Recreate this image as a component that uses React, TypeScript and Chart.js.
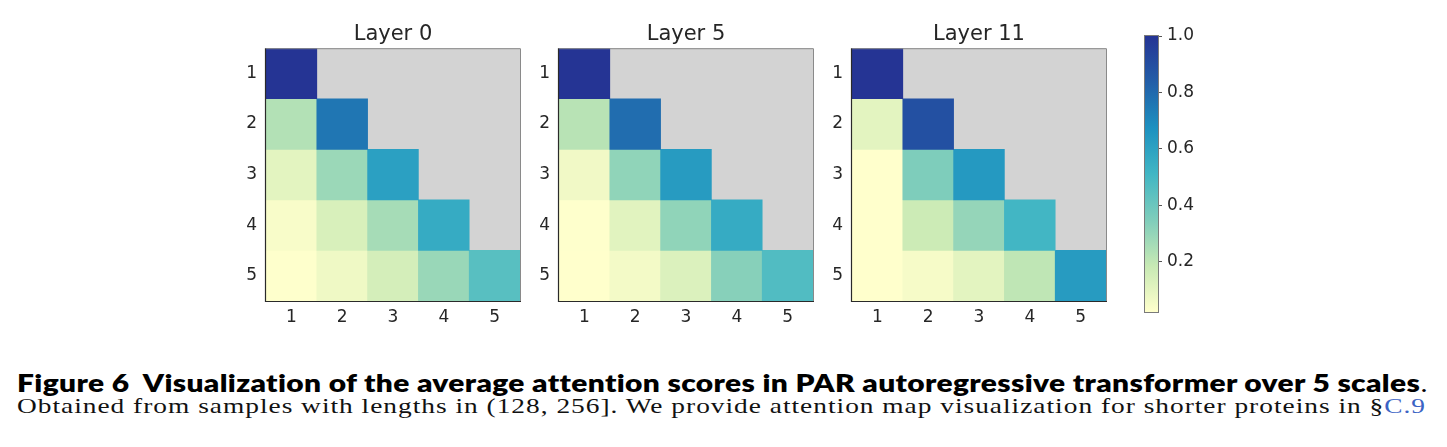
import React, { useEffect, useLayoutEffect, useRef } from "react";
import { Chart, registerables } from "chart.js";

Chart.register(...registerables);

// Scale indices shown on both axes of every attention map
const SCALES = ["1", "2", "3", "4", "5"];

// Average attention scores (lower triangle): row i = query scale i, column j = key scale j
const LAYER_0 = [
  [1.0],
  [0.23, 0.76],
  [0.105, 0.285, 0.61],
  [0.043, 0.137, 0.26, 0.56],
  [0.025, 0.07, 0.148, 0.29, 0.45],
];
const LAYER_5 = [
  [1.0],
  [0.22, 0.79],
  [0.064, 0.31, 0.63],
  [0.025, 0.11, 0.31, 0.56],
  [0.023, 0.058, 0.128, 0.33, 0.47],
];
const LAYER_11 = [
  [1.0],
  [0.105, 0.89],
  [0.023, 0.35, 0.64],
  [0.023, 0.17, 0.3, 0.51],
  [0.023, 0.05, 0.105, 0.205, 0.63],
];

const LAYER_TITLES = ["Layer 0", "Layer 5", "Layer 11"];
const LAYERS = [LAYER_0, LAYER_5, LAYER_11];

// Colour scale range and colorbar tick values
const VMIN = 0.023;
const VMAX = 1.0;
const COLORBAR_TICKS = [0.2, 0.4, 0.6, 0.8, 1.0];

// YlGnBu palette stops, evenly spaced from VMIN to VMAX
const PALETTE = ["#ffffcc", "#c7e9b4", "#7fcdbb", "#41b6c4", "#1d91c0", "#225ea8", "#253494"];

const FONT = "DejaVu Sans";
const TEXT = "#262626";
const TICK_SIZE = 17;

function hexToRgb(h: string): number[] {
  const n = parseInt(h.slice(1), 16);
  return [(n >> 16) & 255, (n >> 8) & 255, n & 255];
}

function colorAt(v: number): string {
  let t = (v - VMIN) / (VMAX - VMIN);
  t = Math.max(0, Math.min(1, t));
  const seg = t * (PALETTE.length - 1);
  const i = Math.min(PALETTE.length - 2, Math.floor(seg));
  const f = seg - i;
  const a = hexToRgb(PALETTE[i]);
  const b = hexToRgb(PALETTE[i + 1]);
  const c = a.map((x, k) => Math.round(x + (b[k] - x) * f));
  return `rgb(${c[0]},${c[1]},${c[2]})`;
}

// Masked (upper-triangle) background and axes frame
const heatFrame = {
  id: "heatFrame",
  beforeDatasetsDraw(chart: any) {
    const { ctx, chartArea: a } = chart;
    ctx.save();
    ctx.fillStyle = "#d3d3d3";
    ctx.fillRect(a.left, a.top, a.right - a.left, a.bottom - a.top);
    ctx.restore();
  },
  afterDatasetsDraw(chart: any) {
    const { ctx, chartArea: a } = chart;
    ctx.save();
    ctx.lineWidth = 1;
    ctx.strokeStyle = "#8a8a8a";
    ctx.beginPath();
    ctx.moveTo(a.left, a.top + 0.5);
    ctx.lineTo(a.right + 0.5, a.top + 0.5);
    ctx.lineTo(a.right + 0.5, a.bottom);
    ctx.stroke();
    ctx.strokeStyle = "#2a2a2a";
    ctx.lineWidth = 1.2;
    ctx.beginPath();
    ctx.moveTo(a.left - 0.5, a.top);
    ctx.lineTo(a.left - 0.5, a.bottom + 0.5);
    ctx.lineTo(a.right + 1, a.bottom + 0.5);
    ctx.stroke();
    ctx.restore();
  },
};

const barFrame = {
  id: "barFrame",
  afterDatasetsDraw(chart: any) {
    const { ctx, chartArea: a } = chart;
    ctx.save();
    ctx.lineWidth = 1;
    ctx.strokeStyle = "#7a7a7a";
    ctx.strokeRect(a.left - 0.5, a.top - 0.5, a.right - a.left + 1, a.bottom - a.top + 1);
    ctx.restore();
  },
};

function Heatmap({ title, rows, left }: { title: string; rows: number[][]; left: number }) {
  const ref = useRef<HTMLCanvasElement>(null);
  useEffect(() => {
    if (!ref.current) return;
    const datasets = rows.map((vals, r) => ({
      label: SCALES[r],
      data: SCALES.map((_, c) => (c < vals.length ? [r + 0.5, r + 1.5] : null)),
      backgroundColor: SCALES.map((_, c) => (c < vals.length ? colorAt(vals[c]) : "rgba(0,0,0,0)")),
      borderWidth: 0,
      grouped: false,
      barPercentage: 1,
      categoryPercentage: 1,
    }));
    const chart = new Chart(ref.current, {
      type: "bar",
      data: { labels: SCALES, datasets: datasets as any },
      plugins: [heatFrame],
      options: {
        responsive: false,
        animation: false,
        layout: { padding: { left: 0, right: 28, top: 22, bottom: 0 } },
        plugins: {
          legend: { display: false },
          tooltip: { enabled: false },
          title: {
            display: true,
            fullSize: false,
            text: title,
            color: TEXT,
            font: { family: FONT, size: 21, weight: "normal" },
            padding: { top: 0, bottom: 1 },
          },
        },
        scales: {
          x: {
            type: "category",
            offset: true,
            grid: { display: false, drawTicks: false },
            border: { display: false },
            ticks: { color: TEXT, font: { family: FONT, size: TICK_SIZE }, padding: 6, maxRotation: 0 },
            afterFit: (s: any) => {
              s.height = 31;
            },
          },
          y: {
            type: "linear",
            reverse: true,
            min: 0.5,
            max: 5.5,
            grid: { display: false, drawTicks: false },
            border: { display: false },
            afterBuildTicks: (s: any) => {
              s.ticks = SCALES.map((_, i) => ({ value: i + 1 }));
            },
            ticks: {
              color: TEXT,
              font: { family: FONT, size: TICK_SIZE },
              padding: 9,
              callback: (v: any) => SCALES[Math.round(Number(v)) - 1],
            },
            afterFit: (s: any) => {
              s.width = 28;
            },
          },
        },
      } as any,
    });
    return () => chart.destroy();
  }, [title, rows]);
  return (
    <canvas
      ref={ref}
      width={310}
      height={332}
      style={{ position: "absolute", left, top: 0, width: 310, height: 332 }}
    />
  );
}

function Colorbar() {
  const ref = useRef<HTMLCanvasElement>(null);
  useEffect(() => {
    if (!ref.current) return;
    const chart = new Chart(ref.current, {
      type: "bar",
      data: {
        labels: [""],
        datasets: [
          {
            data: [[VMIN, VMAX]],
            backgroundColor: (c: any) => {
              const ch = c.chart;
              if (!ch.chartArea) return "#ffffff";
              const y = ch.scales.y;
              const g = ch.ctx.createLinearGradient(0, y.getPixelForValue(VMIN), 0, y.getPixelForValue(VMAX));
              PALETTE.forEach((col, i) => g.addColorStop(i / (PALETTE.length - 1), col));
              return g;
            },
            borderWidth: 0,
            barPercentage: 1,
            categoryPercentage: 1,
          },
        ] as any,
      },
      plugins: [barFrame],
      options: {
        responsive: false,
        animation: false,
        layout: { padding: { left: 45, right: 0, top: 36, bottom: 28 } },
        plugins: { legend: { display: false }, tooltip: { enabled: false }, title: { display: false } },
        scales: {
          x: { type: "category", display: false, offset: true },
          y: {
            type: "linear",
            position: "right",
            min: VMIN,
            max: VMAX,
            grid: { display: true, drawOnChartArea: false, drawTicks: true, tickLength: 4, color: "#555555", lineWidth: 1 },
            border: { display: false },
            afterBuildTicks: (s: any) => {
              s.ticks = COLORBAR_TICKS.map((v) => ({ value: v }));
            },
            ticks: {
              color: TEXT,
              font: { family: FONT, size: TICK_SIZE },
              padding: 5,
              callback: (v: any) => Number(v).toFixed(1),
            },
            afterFit: (s: any) => {
              s.width = 42;
            },
          },
        },
      } as any,
    });
    return () => chart.destroy();
  }, []);
  return (
    <canvas
      ref={ref}
      width={100}
      height={340}
      style={{ position: "absolute", left: 1100, top: 0, width: 100, height: 340 }}
    />
  );
}

export default function App() {
  const line1 = useRef<HTMLDivElement>(null);
  const line2 = useRef<HTMLDivElement>(null);

  useLayoutEffect(() => {
    const fit = () => {
      const pairs: [HTMLDivElement | null, number][] = [
        [line1.current, 1411],
        [line2.current, 1409],
      ];
      pairs.forEach(([el, target]) => {
        if (!el) return;
        el.style.transform = "none";
        const w = el.getBoundingClientRect().width;
        if (w > 0) el.style.transform = `scaleX(${target / w})`;
      });
    };
    fit();
    if ((document as any).fonts && (document as any).fonts.ready) {
      (document as any).fonts.ready.then(fit);
    }
  }, []);

  return (
    <div
      style={{
        position: "absolute",
        left: 0,
        top: 0,
        width: 1447,
        height: 447,
        background: "#ffffff",
        overflow: "hidden",
      }}
    >
      {LAYERS.map((rows, i) => (
        <Heatmap key={LAYER_TITLES[i]} title={LAYER_TITLES[i]} rows={rows} left={238 + i * 293} />
      ))}
      <Colorbar />
      <div
        ref={line1}
        style={{
          position: "absolute",
          left: 17,
          top: 370,
          fontFamily: "Lato",
          fontWeight: 800,
          fontSize: 25,
          lineHeight: "25px",
          letterSpacing: "0.3px",
          whiteSpace: "pre",
          transformOrigin: "0 0",
          color: "#000",
        }}
      >
        {"Figure 6  Visualization of the average attention scores in PAR autoregressive transformer over 5 scales"}
        <span style={{ fontFamily: "Liberation Serif", fontWeight: 400 }}>.</span>
      </div>
      <div
        ref={line2}
        style={{
          position: "absolute",
          left: 17,
          top: 395,
          fontFamily: "Liberation Serif",
          fontSize: 22,
          lineHeight: "22px",
          letterSpacing: "0.8px",
          whiteSpace: "pre",
          transformOrigin: "0 0",
          color: "#111",
        }}
      >
        {"Obtained from samples with lengths in (128, 256]. We provide attention map visualization for shorter proteins in §"}
        <span style={{ color: "#3b63c4" }}>C.9</span>
      </div>
    </div>
  );
}
